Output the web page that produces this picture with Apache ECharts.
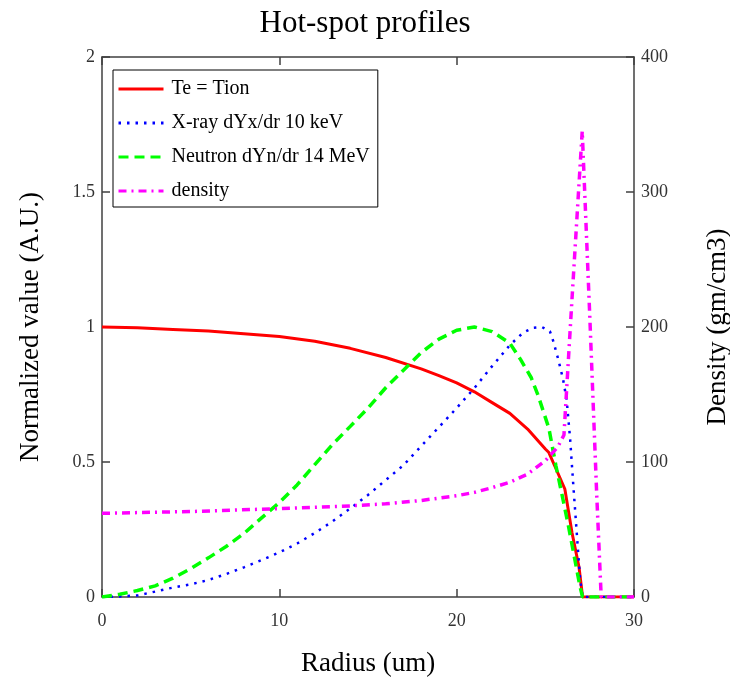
<!DOCTYPE html>
<html>
<head>
<meta charset="utf-8">
<script src="https://cdn.jsdelivr.net/npm/echarts@6/dist/echarts.min.js"></script>
<style>
  html, body { margin: 0; padding: 0; background: #fff; }
  #show { width: 730px; height: 677px; }
</style>
</head>
<body>
<div id="show"></div>
<script>
// radius (um) and values
var teR = [0, 2, 4, 6, 8, 10, 12, 14, 16, 18, 19, 20, 21, 22, 23, 24, 25, 25.2, 25.6, 26.1, 26.5, 26.9, 27.1, 30];
var teV = [1.0, 0.997, 0.991, 0.985, 0.975, 0.965, 0.947, 0.921, 0.887, 0.845, 0.82, 0.793, 0.76, 0.72, 0.68, 0.622, 0.548, 0.535, 0.475, 0.40, 0.24, 0.11, 0, 0];

var xrayR = [0, 1, 2, 3, 4, 5, 6, 7, 8, 9, 10, 11, 12, 13, 14, 15, 16, 17, 18, 19, 20, 21, 22, 23, 23.75, 24.3, 24.8, 25.26, 25.45, 25.73, 26.0, 26.2, 26.4, 26.58, 26.77, 26.96, 27.1, 30];
var xrayV = [0, 0.002, 0.006, 0.02, 0.035, 0.047, 0.063, 0.085, 0.11, 0.137, 0.165, 0.198, 0.237, 0.28, 0.328, 0.378, 0.433, 0.488, 0.559, 0.629, 0.70, 0.774, 0.855, 0.933, 0.979, 0.997, 1.0, 0.984, 0.947, 0.88, 0.806, 0.732, 0.584, 0.411, 0.239, 0.067, 0, 0];

var neutR = [0, 1, 2, 3, 4, 5, 6, 7, 8, 9, 10, 11, 12, 13, 14, 15, 16, 17, 18, 19, 20, 21, 22, 23, 23.6, 24.2, 24.6, 25.2, 25.6, 26, 26.3, 26.66, 26.95, 27.1, 30];
var neutV = [0, 0.01, 0.024, 0.041, 0.07, 0.105, 0.145, 0.187, 0.235, 0.293, 0.35, 0.415, 0.49, 0.565, 0.632, 0.70, 0.775, 0.84, 0.905, 0.955, 0.988, 1.0, 0.983, 0.94, 0.88, 0.813, 0.745, 0.625, 0.485, 0.36, 0.264, 0.14, 0.04, 0, 0];

var densR = [0, 5, 10, 14, 16, 18, 20, 21, 22, 23, 24, 25, 25.7, 26.05, 26.5, 27.08, 27.5, 27.9, 28.15, 30];
var densV = [62, 63.3, 65.5, 67.5, 69, 71.5, 75, 77.5, 81, 85, 91, 101, 111, 120, 220, 345, 210, 75, 0, 0];

var names = ['Te = Tion', 'X-ray dYx/dr 10 keV', 'Neutron dYn/dr 14 MeV', 'density'];

function pairs(r, v) {
    var out = [];
    for (var i = 0; i < r.length; i++) {
        out.push([r[i], v[i]]);
    }
    return out;
}

var font = "'Liberation Serif', 'Times New Roman', serif";
var axisCol = '#404040';

// same frame style for all four sides, ticks pointing in
function frame(extra) {
    var a = {
        axisLine: { show: true, onZero: false, lineStyle: { color: axisCol, width: 1.5 } },
        axisTick: { show: true, inside: true, length: 8, lineStyle: { color: axisCol, width: 1.5 } },
        axisLabel: { fontFamily: font, fontSize: 18, color: '#333', margin: 7 },
        splitLine: { show: false },
        nameTextStyle: { fontFamily: font, fontSize: 27, color: '#000' }
    };
    for (var k in extra) a[k] = extra[k];
    return a;
}

var myChart = echarts.init(document.getElementById('show'));
var option = {
    backgroundColor: '#fff',
    animation: false,
    title: {
        text: 'Hot-spot profiles',
        left: 'center',
        top: 3,
        textStyle: { fontFamily: font, fontSize: 31, fontWeight: 'normal', color: '#000' }
    },
    legend: {
        orient: 'vertical',
        left: 113,
        top: 70,
        padding: [9, 8, 6, 4],
        itemGap: 14,
        itemWidth: 45,
        itemHeight: 14,
        borderColor: '#000',
        borderWidth: 1,
        backgroundColor: '#fff',
        itemStyle: { opacity: 0 },
        lineStyle: { width: 3 },
        textStyle: { fontFamily: font, fontSize: 20, color: '#000', padding: [0, 0, 0, 3] },
        data: names
    },
    grid: { left: 102, right: 96, top: 57, bottom: 80, outerBoundsMode: 'none' },
    xAxis: [
        frame({
            type: 'value', min: 0, max: 30, interval: 10, position: 'bottom',
            name: 'Radius (um)', nameLocation: 'middle', nameGap: 53,
            axisLabel: { fontFamily: font, fontSize: 18, color: '#333', margin: 15 }
        }),
        frame({
            type: 'value', min: 0, max: 30, interval: 10, position: 'top',
            axisLabel: { show: false }
        })
    ],
    yAxis: [
        frame({
            type: 'value', min: 0, max: 2, interval: 0.5, position: 'left',
            name: 'Normalized value (A.U.)', nameLocation: 'middle', nameGap: 58
        }),
        frame({
            type: 'value', min: 0, max: 400, interval: 100, position: 'right',
            name: 'Density (gm/cm3)', nameLocation: 'middle', nameGap: 70, nameRotate: 90
        })
    ],
    series: [
        {
            name: names[0], type: 'line', symbol: 'none', xAxisIndex: 0, yAxisIndex: 0,
            color: '#ff0000',
            lineStyle: { color: '#ff0000', width: 3 },
            data: pairs(teR, teV)
        },
        {
            name: names[1], type: 'line', symbol: 'none', xAxisIndex: 0, yAxisIndex: 0,
            color: '#0000ff',
            lineStyle: { color: '#0000ff', width: 2.5, type: [2.5, 6] },
            data: pairs(xrayR, xrayV)
        },
        {
            name: names[2], type: 'line', symbol: 'none', xAxisIndex: 0, yAxisIndex: 0,
            color: '#00ff00',
            lineStyle: { color: '#00ff00', width: 3.5, type: [10, 6] },
            data: pairs(neutR, neutV)
        },
        {
            name: names[3], type: 'line', symbol: 'none', xAxisIndex: 0, yAxisIndex: 1,
            color: '#ff00ff',
            lineStyle: { color: '#ff00ff', width: 3.5, type: [8, 5, 2, 5] },
            data: pairs(densR, densV)
        }
    ]
};
myChart.setOption(option);
</script>
</body>
</html>
